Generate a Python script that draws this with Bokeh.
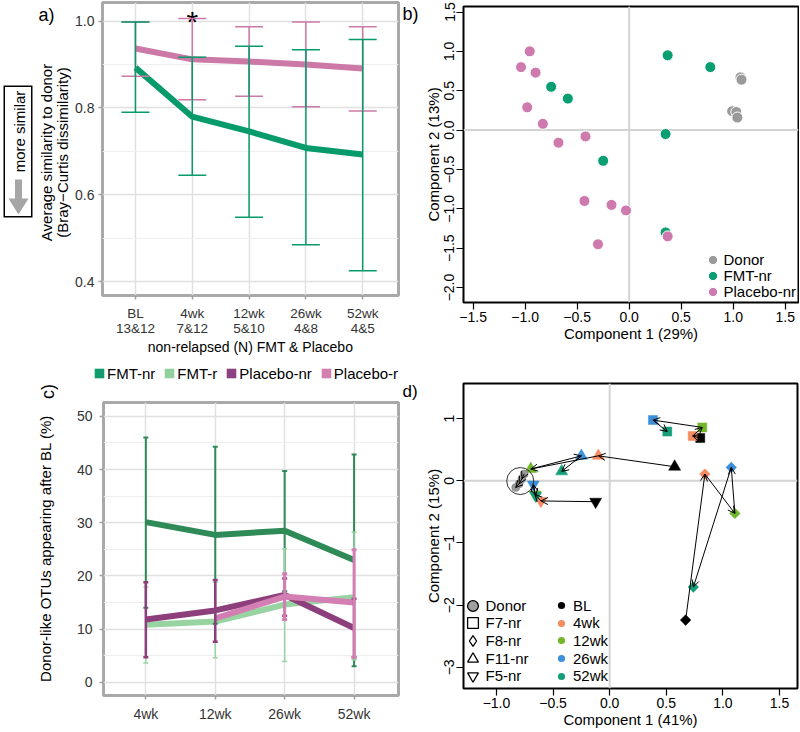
import math
from bokeh.plotting import figure
from bokeh.models import (ColumnDataSource, Whisker, TeeHead, FixedTicker, Label, PolyAnnotation,
                          Legend, LegendItem, Span, Arrow, OpenHead, CustomJSTickFormatter,
                          NumeralTickFormatter)
from bokeh.layouts import row, column
from bokeh.embed import file_html
from bokeh.resources import INLINE

FONT = "Liberation Sans"
nan = float("nan")

# ---------------- panel a data
a_times = ["BL", "4wk", "12wk", "26wk", "52wk"]
a_counts = ["13&12", "7&12", "5&10", "4&8", "4&5"]
a_fmt = [0.893, 0.780, 0.746, 0.708, 0.693]
a_fmt_lo = [0.790, 0.645, 0.548, 0.485, 0.425]
a_fmt_hi = [0.998, 0.917, 0.942, 0.934, 0.958]
a_plc = [0.937, 0.912, 0.907, 0.900, 0.891]
a_plc_lo = [0.873, 0.819, 0.827, 0.803, 0.793]
a_plc_hi = [0.998, 1.006, 0.987, 0.998, 0.987]
a_yticks = [0.4, 0.6, 0.8, 1.0]
a_yminor = [0.5, 0.7, 0.9]
a_sig_time = "4wk"
a_sig_y = 1.0

# ---------------- panel b data
b_donor_x = [1.07, 1.08, 0.99, 1.03, 1.04]
b_donor_y = [0.67, 0.64, 0.24, 0.23, 0.16]
b_fmt_x = [0.37, 0.78, -0.75, -0.59, 0.35, -0.25, 0.35]
b_fmt_y = [0.95, 0.80, 0.55, 0.40, -0.05, -0.39, -1.30]
b_plc_x = [-0.956, -1.04, -0.90, -0.98, -0.83, -0.68, -0.42, -0.43, -0.17, -0.03, -0.30, 0.37]
b_plc_y = [1.00, 0.80, 0.73, 0.29, 0.08, -0.16, -0.08, -0.90, -0.95, -1.02, -1.45, -1.35]
b_groups = ["Donor", "FMT-nr", "Placebo-nr"]
b_xticks = [-1.5, -1.0, -0.5, 0.0, 0.5, 1.0, 1.5]
b_yticks = [-2.0, -1.5, -1.0, -0.5, 0.0, 0.5, 1.0, 1.5]

# ---------------- panel c data
c_times = ["4wk", "12wk", "26wk", "52wk"]
c_groups = ["FMT-nr", "FMT-r", "Placebo-nr", "Placebo-r"]
c_fmt_nr = [30.1, 27.7, 28.5, 23.0]
c_fmt_nr_lo = [14.0, 11.0, 17.1, 3.0]
c_fmt_nr_hi = [46.0, 44.3, 39.7, 42.8]
c_fmt_r = [10.8, 11.4, 14.6, 16.0]
c_fmt_r_lo = [3.6, 4.6, 3.9, 4.2]
c_fmt_r_hi = [17.9, 18.8, 25.1, 28.2]
c_plc_nr = [11.8, 13.5, 16.4, 10.2]
c_plc_nr_lo = [4.7, 7.6, 12.5, 4.7]
c_plc_nr_hi = [18.8, 19.2, 19.5, 15.7]
c_plc_r = [nan, 12.0, 16.1, 15.0]
c_plc_r_lo = [nan, nan, 11.8, 4.7]
c_plc_r_hi = [nan, nan, 20.4, 24.9]
c_yticks = [0, 10, 20, 30, 40, 50]
c_yminor = [5, 15, 25, 35, 45]

# ---------------- panel d data
d_times = ["BL", "4wk", "12wk", "26wk", "52wk"]
d_subject_names = ["F7-nr", "F8-nr", "F11-nr", "F5-nr"]
d_f7_x = [0.80, 0.733, 0.818, 0.382, 0.509]
d_f7_y = [0.686, 0.72, 0.857, 0.975, 0.79]
d_f8_x = [0.671, 0.841, 1.106, 1.074, 0.739]
d_f8_y = [-2.24, 0.107, -0.525, 0.214, -1.71]
d_f11_x = [0.574, -0.10, -0.697, -0.25, -0.424]
d_f11_y = [0.225, 0.40, 0.188, 0.40, 0.15]
d_f5_x = [-0.124, -0.607, -0.66, -0.675, -0.653]
d_f5_y = [-0.337, -0.325, -0.22, -0.06, -0.24]
d_donor_x = [-0.755, -0.775, -0.80, -0.83]
d_donor_y = [0.11, 0.03, -0.05, -0.11]
d_xticks = [-1.0, -0.5, 0.0, 0.5, 1.0, 1.5]
d_yticks = [-3, -2, -1, 0, 1]

# ---------------- colours
A_PINK = "#CC79A7"
A_GREEN = "#079B6C"
C_COLS = ["#2E8B57", "#98D4A2", "#8C3F7B", "#D47FB3"]
C_LEG = ["#109C6E", "#92D09E", "#8C4180", "#D280B2"]
B_COLS = ["#9A9A9A", "#0A9E73", "#CF7AAE"]
D_COLS = ["#000000", "#F58B61", "#73B62B", "#3C8FD9", "#169E7A"]


def no_align(p):
    if "frame_align" in p.properties():
        p.frame_align = False
    return p


def make_fig(w, h, bl, br, bt, bb, xr, yr):
    p = figure(width=w, height=h, x_range=xr, y_range=yr, output_backend="svg",
               toolbar_location=None, min_border_left=bl, min_border_right=br,
               min_border_top=bt, min_border_bottom=bb)
    p.border_fill_color = "white"
    p.background_fill_color = "white"
    return no_align(p)


def strip(w, h):
    p = figure(width=w, height=h, x_range=(0, w), y_range=(0, h), output_backend="svg",
               toolbar_location=None, min_border_left=0, min_border_right=0, min_border_top=0,
               min_border_bottom=0, x_axis_location=None, y_axis_location=None)
    p.outline_line_color = None
    for g in p.grid:
        g.visible = False
    return no_align(p)


def scr(p, fx, fy):
    fh = p.height - p.min_border_top - p.min_border_bottom
    return fx - p.min_border_left, p.min_border_top + fh - fy


def add_label(p, text, fx, fy, size, angle=0.0, align="left"):
    sx, sy = scr(p, fx, fy)
    p.add_layout(Label(x=sx, y=sy, x_units="screen", y_units="screen", text=text, angle=angle,
                       text_align=align, text_baseline="middle", text_font=FONT,
                       text_font_size=f"{size}px", text_color="black"))


def add_poly(p, xs, ys, color):
    pts = [scr(p, x, y) for x, y in zip(xs, ys)]
    p.add_layout(PolyAnnotation(xs=[q[0] for q in pts], ys=[q[1] for q in pts], xs_units="screen",
                                ys_units="screen", fill_color=color, fill_alpha=1, line_color=None))


def place_legend(p, leg, row_h, glyph_w, cx, cy):
    fh = p.height - p.min_border_top - p.min_border_bottom
    bottom = cy + row_h / 2
    leg.location = (cx - glyph_w / 2 - p.min_border_left, p.min_border_top + fh - bottom)


def item_legend(p, label, rend, glyph, cx, cy, text_x, size):
    standoff = int(round(text_x - (cx + glyph / 2)))
    leg = Legend(items=[LegendItem(label=label, renderers=[rend])], glyph_width=glyph,
                 glyph_height=glyph, label_height=10, label_width=10, label_standoff=standoff,
                 spacing=0, padding=0, margin=0, border_line_color=None, background_fill_alpha=0,
                 label_text_font=FONT, label_text_font_size=f"{size}px", label_text_color="black")
    p.add_layout(leg)
    place_legend(p, leg, glyph, glyph, cx, cy)


def whisk(p, xs, lo, hi, color, lw, cap):
    pts = [(x, l, h) for x, l, h in zip(xs, lo, hi) if not (math.isnan(l) or math.isnan(h))]
    src = ColumnDataSource(dict(x=[q[0] for q in pts], lo=[q[1] for q in pts], hi=[q[2] for q in pts]))
    p.add_layout(Whisker(source=src, base="x", lower="lo", upper="hi", line_color=color,
                         line_width=lw, level="overlay",
                         upper_head=TeeHead(size=cap, line_color=color, line_width=lw),
                         lower_head=TeeHead(size=cap, line_color=color, line_width=lw)))


def style_gg(p, xticks, yticks, yminor):
    p.outline_line_color = "#A9A9A9"
    p.outline_line_width = 3
    p.xaxis.ticker = FixedTicker(ticks=xticks)
    p.xgrid.ticker = FixedTicker(ticks=xticks)
    p.yaxis.ticker = FixedTicker(ticks=yticks, minor_ticks=yminor)
    p.ygrid.ticker = FixedTicker(ticks=yticks, minor_ticks=yminor)
    for ax in p.axis:
        ax.axis_line_color = None
        ax.major_tick_line_color = "#A0A0A0"
        ax.major_tick_line_width = 1.5
        ax.major_tick_out = 4
        ax.major_tick_in = 0
        ax.minor_tick_line_color = None
        ax.major_label_text_font = FONT
        ax.major_label_text_font_size = "14px"
        ax.major_label_text_color = "#333333"
        ax.axis_label_text_font = FONT
        ax.axis_label_text_font_style = "normal"
        ax.axis_label_text_font_size = "14px"
        ax.axis_label_text_color = "black"
    p.xgrid.grid_line_color = "#E0E0E0"
    p.ygrid.grid_line_color = "#E0E0E0"
    p.xgrid.grid_line_width = 1.5
    p.ygrid.grid_line_width = 1.5
    p.ygrid.minor_grid_line_color = "#EEEEEE"
    p.ygrid.minor_grid_line_width = 1


def style_base(p, xticks, yticks, xdig, ydig, title_size):
    p.outline_line_color = "black"
    p.outline_line_width = 2
    p.grid.visible = False
    p.xaxis.ticker = FixedTicker(ticks=xticks)
    p.yaxis.ticker = FixedTicker(ticks=yticks)
    p.xaxis.formatter = CustomJSTickFormatter(
        code=f"return (tick < 0 ? '\\u2212' : '') + Math.abs(tick).toFixed({xdig});")
    p.yaxis.formatter = CustomJSTickFormatter(
        code=f"return (tick < 0 ? '\\u2212' : '') + Math.abs(tick).toFixed({ydig});")
    for ax in p.axis:
        ax.axis_line_color = None
        ax.major_tick_line_color = "black"
        ax.major_tick_line_width = 1.2
        ax.major_tick_out = 7
        ax.major_tick_in = 0
        ax.minor_tick_line_color = None
        ax.major_label_text_font = FONT
        ax.major_label_text_font_size = "14px"
        ax.major_label_text_color = "black"
        ax.major_label_standoff = 2
        ax.axis_label_text_font = FONT
        ax.axis_label_text_font_style = "normal"
        ax.axis_label_text_font_size = f"{title_size}px"
        ax.axis_label_text_color = "black"
        ax.axis_label_standoff = 0
    p.yaxis.major_label_orientation = "vertical"
    for dim in ("width", "height"):
        p.add_layout(Span(location=0, dimension=dim, line_color="#D3D3D3", line_width=2,
                          level="underlay"))


# ================= strip left of panel a (box, y title, label)
sa = strip(72, 358)
add_poly(sa, [3, 32, 32, 3], [85, 85, 217, 217], "black")
add_poly(sa, [4.5, 30.5, 30.5, 4.5], [86.5, 86.5, 215.5, 215.5], "white")
add_poly(sa, [14.5, 21.5, 21.5, 28, 18, 8, 14.5], [179, 179, 198, 198, 214, 198, 198], "#A6A6A6")
add_label(sa, "more similar", 18.5, 131, 15, angle=math.pi / 2, align="center")
add_label(sa, "Average similarity to donor", 45.5, 152, 15, angle=math.pi / 2, align="center")
add_label(sa, "(Bray\u2212Curtis dissimilarity)", 62, 152, 15, angle=math.pi / 2, align="center")
add_label(sa, "a)", 38, 14, 18)

# ================= panel a
pa = make_fig(328, 358, 28, 2, 2, 58, (-0.58, 4.63), (0.368, 1.043))
ax_idx = list(range(len(a_times)))
style_gg(pa, ax_idx, a_yticks, a_yminor)
pa.yaxis.formatter = NumeralTickFormatter(format="0.0")
pa.xaxis.major_label_overrides = {i: f"{t}\n{n}" for i, (t, n) in enumerate(zip(a_times, a_counts))}
pa.xaxis.major_label_text_font_size = "13.5px"
pa.xaxis.major_label_text_line_height = 1.05
pa.xaxis.axis_label = "non-relapsed (N) FMT & Placebo"
pa.xaxis.major_label_standoff = 6
pa.xaxis.axis_label_standoff = 0
pa.yaxis.major_label_standoff = 4
pa.line(ax_idx, a_plc, line_color=A_PINK, line_width=6)
pa.line(ax_idx, a_fmt, line_color=A_GREEN, line_width=6)
whisk(pa, ax_idx, a_plc_lo, a_plc_hi, A_PINK, 1.5, 28)
whisk(pa, ax_idx, a_fmt_lo, a_fmt_hi, A_GREEN, 1.5, 28)
pa.add_layout(Label(x=a_times.index(a_sig_time), y=a_sig_y, text="*", text_align="center",
                    text_baseline="middle", text_font=FONT, text_font_size="30px",
                    text_color="black"))

# ================= strip left of panel b
sb = strip(20, 358)
add_label(sb, "b)", 2, 13, 18)

# ================= panel b
pb = make_fig(379, 358, 43, 1, 6, 56, (-1.593, 1.628), (-2.19, 1.57))
style_base(pb, b_xticks, b_yticks, 1, 1, 15)
pb.xaxis.axis_label = "Component 1 (29%)"
pb.yaxis.axis_label = "Component 2 (13%)"
rb = []
for xs, ys, col in [(b_donor_x, b_donor_y, B_COLS[0]), (b_fmt_x, b_fmt_y, B_COLS[1]),
                    (b_plc_x, b_plc_y, B_COLS[2])]:
    rb.append(pb.scatter(xs, ys, size=11, fill_color=col, line_color="white", line_width=1))
for i, (name, r) in enumerate(zip(b_groups, rb)):
    item_legend(pb, name, r, 23, 292, 259 + 16 * i, 302, 15)

# ================= strip left of panel c
sc = strip(58, 373)
add_label(sc, "Donor-like OTUs appearing after BL (%)", 45, 190, 15, angle=math.pi / 2,
          align="center")
add_label(sc, "c)", 47, 33, 18, angle=math.pi / 2, align="center")

# ================= legend strip above panel c
lc = strip(342, 42)
rc = [lc.rect(x=[nan], y=[nan], width=1, height=1, fill_color=col, line_color=None) for col in C_LEG]
leg_c = Legend(items=[LegendItem(label=l, renderers=[r]) for l, r in zip(c_groups, rc)],
               orientation="horizontal", glyph_width=12, glyph_height=12, label_height=17,
               label_width=10, label_standoff=2, spacing=8, padding=0, margin=0,
               border_line_color=None, background_fill_alpha=0, label_text_font=FONT,
               label_text_font_size="15px", label_text_color="black")
lc.add_layout(leg_c)
place_legend(lc, leg_c, 17, 12, 41, 15)

# ================= panel c
pc = make_fig(342, 331, 45, 2, 2, 36, (-0.61, 3.64), (-2.5, 52.6))
cx_idx = list(range(len(c_times)))
style_gg(pc, cx_idx, c_yticks, c_yminor)
pc.xaxis.major_label_overrides = {i: t for i, t in enumerate(c_times)}
pc.xaxis.major_label_standoff = 6
pc.yaxis.major_label_standoff = 7
series = [(c_fmt_nr, c_fmt_nr_lo, c_fmt_nr_hi, 2.0), (c_fmt_r, c_fmt_r_lo, c_fmt_r_hi, 1.5),
          (c_plc_nr, c_plc_nr_lo, c_plc_nr_hi, 2.5), (c_plc_r, c_plc_r_lo, c_plc_r_hi, 3.0)]
for (vals, lo, hi, lw), col in zip(series, C_COLS):
    pc.line(cx_idx, vals, line_color=col, line_width=6)
for (vals, lo, hi, lw), col in zip(series, C_COLS):
    whisk(pc, cx_idx, lo, hi, col, lw, 5)

# ================= strip left of panel d
sd = strip(20, 373)
add_label(sd, "d)", 2, 33, 17)

# ================= panel d
pd = make_fig(379, 373, 43, 2, 25, 43, (-1.291, 1.659), (-3.34, 1.563))
style_base(pd, d_xticks, d_yticks, 1, 0, 15)
pd.xaxis.axis_label = "Component 1 (41%)"
pd.yaxis.axis_label = "Component 2 (15%)"


def traj(p, xs, ys):
    src = ColumnDataSource(dict(x0=xs[:-1], y0=ys[:-1], x1=xs[1:], y1=ys[1:]))
    p.add_layout(Arrow(source=src, x_start="x0", y_start="y0", x_end="x1", y_end="y1",
                       line_color="black", line_width=1,
                       end=OpenHead(size=7, line_color="black", line_width=1)))


subjects = [(d_f7_x, d_f7_y, "square", 9, 0.0), (d_f8_x, d_f8_y, "square", 7.5, math.pi / 4),
            (d_f11_x, d_f11_y, "triangle", 12, 0.0), (d_f5_x, d_f5_y, "inverted_triangle", 12, 0.0)]
for xs, ys, mk, sz, ang in subjects:
    pd.scatter(xs, ys, marker=mk, size=sz, angle=ang, fill_color=D_COLS, line_color=D_COLS,
               line_width=0.5)
pd.scatter(d_donor_x, d_donor_y, size=8, fill_color="#9A9A9A", line_color="#777777", line_width=0.5)
pd.scatter([sum(d_donor_x) / len(d_donor_x)], [sum(d_donor_y) / len(d_donor_y)], size=27,
           fill_color=None, line_color="#333333", line_width=1)
for xs, ys, mk, sz, ang in subjects:
    traj(pd, xs, ys)
traj(pd, d_donor_x, d_donor_y)

sym_specs = [("Donor", "circle", "#A0A0A0"), (d_subject_names[0], "square", None),
             (d_subject_names[1], "diamond", None), (d_subject_names[2], "triangle", None),
             (d_subject_names[3], "inverted_triangle", None)]
for i, (name, mk, fc) in enumerate(sym_specs):
    r = pd.scatter(x=[nan], y=[nan], marker=mk, fill_color=fc, line_color="black", line_width=1.3)
    item_legend(pd, name, r, 27, 52, 247 + 17.7 * i, 63, 15)
for i, (name, col) in enumerate(zip(d_times, D_COLS)):
    r = pd.scatter(x=[nan], y=[nan], marker="circle", fill_color=col, line_color=None)
    item_legend(pd, name, r, 18, 141, 247 + 17.7 * i, 153, 15)

layout = column(row(sa, pa, sb, pb), row(sc, column(lc, pc), sd, pd))
open("out.html", "w").write(file_html(layout, INLINE))
